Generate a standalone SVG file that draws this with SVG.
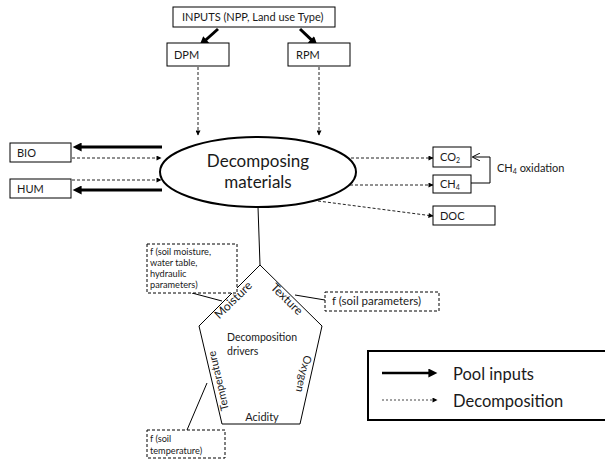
<svg xmlns="http://www.w3.org/2000/svg" width="605" height="459" viewBox="0 0 605 459">
<style>
text{font-family:Lato,"Liberation Sans",sans-serif;fill:#1a1a1a}
.box{fill:#fff;stroke:#000;stroke-width:1}
.dbox{fill:#fff;stroke:#000;stroke-width:1;stroke-dasharray:3,2}
.thick{stroke:#000;stroke-width:3;fill:none}
.dash{stroke:#222;stroke-width:1;stroke-dasharray:3,2;fill:none}
.thin{stroke:#000;stroke-width:1;fill:none}
.s11{font-size:11px}
.s10{font-size:9.2px}
</style>
<defs>
<marker id="ah" viewBox="0 0 10 10" refX="4" refY="5" markerWidth="10" markerHeight="9" markerUnits="userSpaceOnUse" orient="auto"><path d="M0,0L10,5L0,10z" fill="#000"/></marker>
<marker id="dh" viewBox="0 0 10 10" refX="9" refY="5" markerWidth="6" markerHeight="5" markerUnits="userSpaceOnUse" orient="auto"><path d="M0,0L10,5L0,10z" fill="#000"/></marker>
<marker id="oh" viewBox="0 0 10 10" refX="9" refY="5" markerWidth="8" markerHeight="8" markerUnits="userSpaceOnUse" orient="auto"><path d="M0,0L10,5L0,10" fill="none" stroke="#000" stroke-width="1.2"/></marker>
</defs>

<g id="connectors">
<line class="thick" x1="218" y1="29" x2="203.5" y2="42" marker-end="url(#ah)"/>
<line class="thick" x1="300" y1="29" x2="313.6" y2="41.9" marker-end="url(#ah)"/>
<line class="dash" x1="198" y1="67" x2="198" y2="135" marker-end="url(#dh)"/>
<line class="dash" x1="319" y1="67" x2="319" y2="135" marker-end="url(#dh)"/>
<line class="thick" x1="162" y1="147" x2="78" y2="147" marker-end="url(#ah)"/>
<line class="dash" x1="72" y1="158" x2="161" y2="158" marker-end="url(#dh)"/>
<line class="dash" x1="72" y1="180" x2="161" y2="180" marker-end="url(#dh)"/>
<line class="thick" x1="162" y1="190" x2="78" y2="190" marker-end="url(#ah)"/>
<line class="dash" x1="351" y1="158" x2="433" y2="158" marker-end="url(#dh)"/>
<line class="dash" x1="350" y1="185" x2="433" y2="185" marker-end="url(#dh)"/>
<line class="dash" x1="318" y1="201" x2="433" y2="216" marker-end="url(#dh)"/>
<path class="thin" d="M471,183H490V157H473" marker-end="url(#oh)"/>
<line class="thin" x1="258" y1="207" x2="260" y2="265"/>
<line class="thin" x1="192" y1="293" x2="222" y2="301"/>
<line class="thin" x1="295" y1="295" x2="325" y2="300"/>
<line class="thin" x1="187" y1="430" x2="207" y2="383"/>
</g>

<g id="inputs"><rect class="box" x="173" y="7" width="162" height="20"/><text class="s11" x="182" y="21">INPUTS (NPP, Land use Type)</text></g>
<g id="dpm"><rect class="box" x="167" y="43" width="62" height="23"/><text class="s11" x="174" y="59">DPM</text></g>
<g id="rpm"><rect class="box" x="288" y="43" width="62" height="23"/><text class="s11" x="296" y="59">RPM</text></g>
<g id="bio"><rect class="box" x="10" y="143" width="61" height="19"/><text class="s11" x="17" y="157">BIO</text></g>
<g id="hum"><rect class="box" x="10" y="179" width="61" height="19"/><text class="s11" x="17" y="193">HUM</text></g>
<g id="decomposing"><ellipse cx="258" cy="172" rx="98" ry="35" fill="#fff" stroke="#000" stroke-width="2"/>
<text x="258" y="167" font-size="17" text-anchor="middle">Decomposing</text><text x="258" y="188" font-size="17" text-anchor="middle">materials</text></g>
<g id="co2"><rect class="box" x="433" y="147" width="38" height="20"/><text class="s11" x="440" y="161">CO<tspan font-size="7" dy="2">2</tspan></text></g>
<g id="ch4"><rect class="box" x="433" y="175" width="38" height="18"/><text class="s11" x="440" y="188">CH<tspan font-size="7" dy="2">4</tspan></text></g>
<g id="doc"><rect class="box" x="433" y="206" width="62" height="19"/><text class="s11" x="440" y="220">DOC</text></g>
<g id="ch4ox"><text class="s11" x="497" y="172">CH<tspan font-size="7" dy="2">4</tspan><tspan dy="-2"> oxidation</tspan></text></g>

<g id="drivers">
<polygon points="260,265 322,326 300,424 222,424 199,326" fill="#fff" stroke="#000" stroke-width="1"/>
<text x="227" y="341" font-size="10.5">Decomposition</text>
<text x="227" y="355" font-size="10.5">drivers</text>
<text font-size="12" transform="translate(236,303) rotate(-44.5)" text-anchor="middle">Moisture</text>
<text font-size="12" transform="translate(284,302) rotate(44.5)" text-anchor="middle">Texture</text>
<text class="s11" transform="translate(222,380) rotate(-103)" text-anchor="middle">Temperature</text>
<text class="s11" transform="translate(300,373) rotate(103)" text-anchor="middle">Oxygen</text>
<text class="s11" x="262" y="421" text-anchor="middle">Acidity</text>
</g>

<g id="f-moisture"><rect class="dbox" x="147" y="244" width="90" height="49"/>
<text class="s10" x="150" y="255">f (soil moisture,</text>
<text class="s10" x="150" y="266">water table,</text>
<text class="s10" x="150" y="277">hydraulic</text>
<text class="s10" x="150" y="288">parameters)</text></g>
<g id="f-texture"><rect class="dbox" x="325" y="292" width="114" height="19"/><text font-size="11.5" x="332" y="305">f (soil parameters)</text></g>
<g id="f-temperature"><rect class="dbox" x="147" y="430" width="78" height="28"/>
<text class="s10" x="150" y="442">f (soil</text>
<text class="s10" x="150" y="453.5">temperature)</text></g>

<g id="legend">
<rect x="368" y="351" width="245" height="69" fill="#fff" stroke="#000" stroke-width="2"/>
<line x1="382" y1="373" x2="432" y2="373" stroke="#000" stroke-width="2.5" marker-end="url(#ah)"/>
<line x1="382" y1="400" x2="437" y2="400" stroke="#444" stroke-width="1" stroke-dasharray="2,2" marker-end="url(#dh)"/>
<text x="453" y="380" font-size="16.5">Pool inputs</text>
<text x="453" y="407" font-size="16.5">Decomposition</text>
</g>
</svg>
